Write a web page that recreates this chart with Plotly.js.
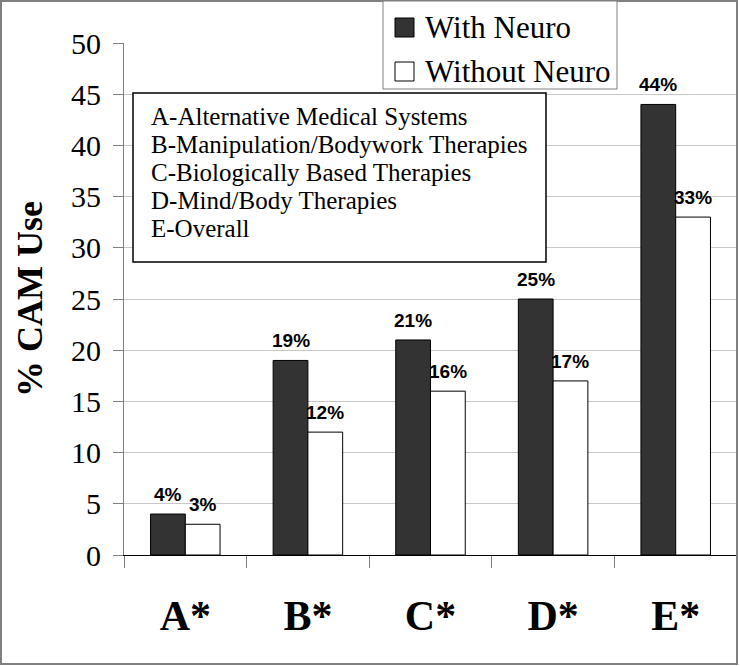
<!DOCTYPE html>
<html>
<head>
<meta charset="utf-8">
<script src="https://cdn.plot.ly/plotly-3.0.1.min.js"></script>
<style>html,body{margin:0;padding:0;background:#fff;}</style>
</head>
<body>
<div id="chart" style="width:740px;height:666px;"></div>
<script>
const categories = ["A*", "B*", "C*", "D*", "E*"];
const withNeuro = [4, 19, 21, 25, 44];
const withoutNeuro = [3, 12, 16, 17, 33];
const seriesNames = ["With Neuro", "Without Neuro"];
const seriesColors = ["#333333", "#ffffff"];
const keyLines = [
  "A-Alternative Medical Systems",
  "B-Manipulation/Bodywork Therapies",
  "C-Biologically Based Therapies",
  "D-Mind/Body Therapies",
  "E-Overall"
];

// pixel helpers for plot area
const L = 124, R = 737, T = 43, B = 555, W = 740, H = 666;
const px = x => (x - L) / (R - L);
const py = y => (B - y) / (B - T);

const SERIF = "'Liberation Serif', 'Times New Roman', Times, serif";
const SANS = "'Liberation Sans', Arial, Helvetica, sans-serif";
const labelFont = {family: SANS, size: 19, color: "#000", weight: "bold"};

const BARGAP = 0.433;
const catW = (R - L) / categories.length;
const barW = catW * (1 - BARGAP) / 2;

const seriesData = [withNeuro, withoutNeuro];
const traces = seriesData.map((vals, s) => ({
  type: "bar", name: seriesNames[s], x: categories, y: vals,
  marker: {color: seriesColors[s], line: {color: "#000", width: 1}},
  showlegend: false, hoverinfo: "skip"
}));

const annotations = [];
// value labels above bars (positioned by data values through the axes)
seriesData.forEach((vals, s) => {
  vals.forEach((v, i) => {
    annotations.push({
      x: categories[i], y: v, xref: "x", yref: "y",
      xshift: (s === 0 ? -1 : 1) * barW / 2, yshift: 7,
      xanchor: "center", yanchor: "bottom", showarrow: false,
      text: v + "%", font: labelFont
    });
  });
});
// key text lines
const keyY = [116, 144, 172, 200, 228];
keyLines.forEach((t, i) => {
  annotations.push({
    xref: "paper", yref: "paper", x: px(149), y: py(keyY[i]),
    xanchor: "left", yanchor: "middle", showarrow: false, align: "left",
    text: t, font: {family: SERIF, size: 25, color: "#000"}
  });
});
// legend entries
const legY = [27, 71];
seriesNames.forEach((n, i) => {
  annotations.push({
    xref: "paper", yref: "paper", x: px(423), y: py(legY[i]),
    xanchor: "left", yanchor: "middle", showarrow: false,
    text: n, font: {family: SERIF, size: 31, color: "#000"}
  });
});

const shapes = [
  // outer frame
  {type: "rect", xref: "paper", yref: "paper", x0: px(1), x1: px(737), y0: py(664), y1: py(1),
   line: {color: "#808080", width: 2}, fillcolor: "rgba(0,0,0,0)", layer: "above"},
  // key box
  {type: "rect", xref: "paper", yref: "paper", x0: px(133), x1: px(546), y0: py(262), y1: py(93),
   line: {color: "#000", width: 1.5}, fillcolor: "#fff", layer: "above"},
  // legend box
  {type: "rect", xref: "paper", yref: "paper", x0: px(383), x1: px(617), y0: py(89), y1: py(1),
   line: {color: "#808080", width: 1}, fillcolor: "#fff", layer: "above"}
];
seriesNames.forEach((n, i) => {
  shapes.push({type: "rect", xref: "paper", yref: "paper",
    x0: px(395), x1: px(414), y0: py(legY[i] + 10), y1: py(legY[i] - 9),
    line: {color: "#000", width: 1}, fillcolor: seriesColors[i], layer: "above"});
});

const layout = {
  width: W, height: H,
  margin: {l: L, r: W - R, t: T, b: H - B, pad: 0},
  paper_bgcolor: "#fff", plot_bgcolor: "#fff",
  barmode: "group", bargap: BARGAP, bargroupgap: 0,
  font: {family: SERIF, color: "#000"},
  showlegend: false,
  xaxis: {
    type: "category", tickson: "boundaries", ticks: "outside", ticklen: 12,
    tickcolor: "#808080", tickwidth: 1,
    showline: true, linecolor: "#000", linewidth: 1,
    showgrid: false, zeroline: false,
    tickfont: {family: SERIF, size: 42, color: "#000", weight: "bold"},
    ticklabelstandoff: 24, fixedrange: true
  },
  yaxis: {
    range: [0, 50], dtick: 5, tick0: 0,
    ticks: "outside", ticklen: 10, tickcolor: "#808080", tickwidth: 1,
    showline: true, linecolor: "#808080", linewidth: 1,
    showgrid: true, gridcolor: "#c8c8c8", gridwidth: 1, zeroline: false,
    tickfont: {family: SERIF, size: 30, color: "#000"},
    ticklabelstandoff: 6,
    title: {text: "% CAM Use", font: {family: SERIF, size: 36, color: "#000", weight: "bold"}, standoff: 17},
    fixedrange: true
  },
  shapes: shapes,
  annotations: annotations
};

Plotly.newPlot("chart", traces, layout, {displayModeBar: false, staticPlot: true});
</script>
</body>
</html>
